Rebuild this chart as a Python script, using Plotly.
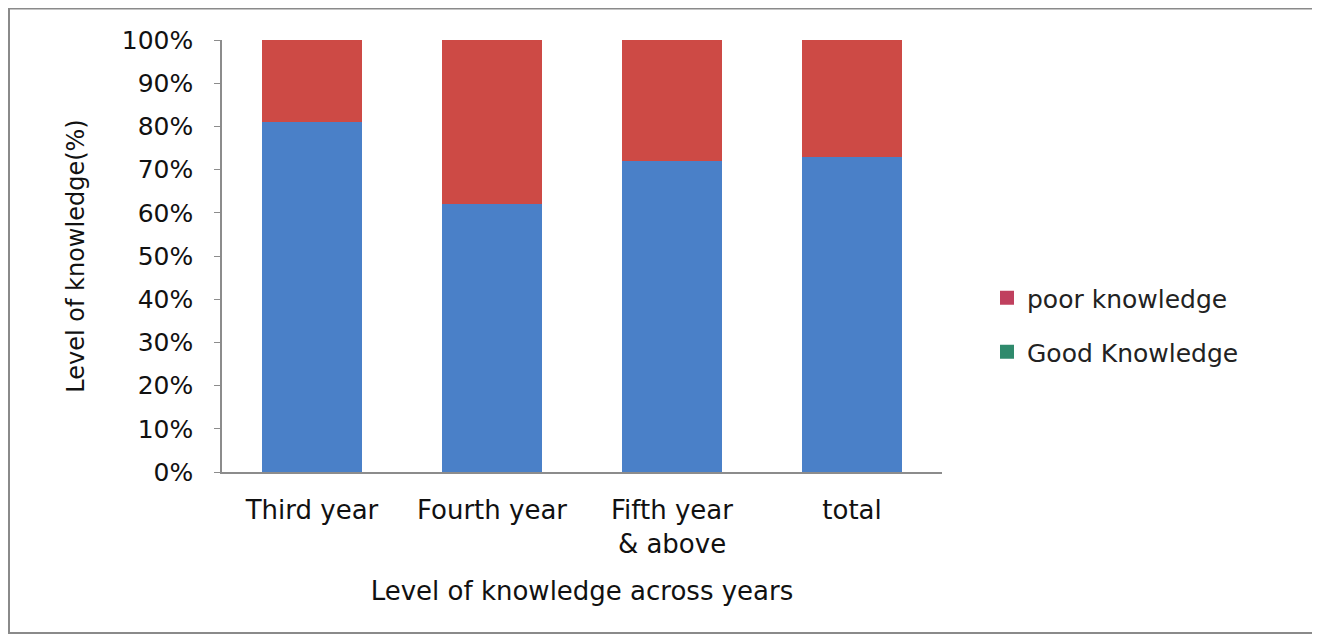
import plotly.graph_objects as go

categories = ["Third year", "Fourth year", "Fifth year<br>& above", "total"]
good_knowledge = [81, 62, 72, 73]
poor_knowledge = [19, 38, 28, 27]
y_ticks = [0, 10, 20, 30, 40, 50, 60, 70, 80, 90, 100]
y_ticklabels = [f"{v}%" for v in y_ticks]

BLUE = "#4a80c8"
RED = "#cd4a45"

# plot area in figure pixels (page has 8px body margin)
L, R, T, B = 214, 934, 32, 464
PW, PH = R - L, B - T

fig = go.Figure()
fig.add_trace(go.Bar(x=categories, y=good_knowledge, marker=dict(color=BLUE, line=dict(width=0)),
                     name="Good Knowledge", showlegend=False))
fig.add_trace(go.Bar(x=categories, y=poor_knowledge, marker=dict(color=RED, line=dict(width=0)),
                     name="poor knowledge", showlegend=False))
# legend-only entries (legend swatch colours differ in the reference)
fig.add_trace(go.Scatter(x=[None], y=[None], mode="markers", name="poor knowledge",
                         marker=dict(symbol="square", size=14, color="#c0405e"),
                         legend="legend"))
fig.add_trace(go.Scatter(x=[None], y=[None], mode="markers", name="Good Knowledge",
                         marker=dict(symbol="square", size=14, color="#2f8a6c"),
                         legend="legend2"))

FONT = "DejaVu Sans, Verdana, sans-serif"
legend_font = dict(family=FONT, size=25, color="#222")
lx = (979 - L) / PW
fig.update_layout(
    width=1320, height=644,
    barmode="stack", bargap=0.44,
    paper_bgcolor="white", plot_bgcolor="white",
    margin=dict(l=L, r=1320 - R, t=T, b=644 - B),
    font=dict(family=FONT, size=25, color="#111"),
    legend=dict(x=lx, y=(B - 290) / PH, xanchor="left", yanchor="middle",
                font=legend_font, bgcolor="rgba(0,0,0,0)"),
    legend2=dict(x=lx, y=(B - 344) / PH, xanchor="left", yanchor="middle",
                 font=legend_font, bgcolor="rgba(0,0,0,0)"),
    xaxis=dict(showline=True, linecolor="#8c8c8c", linewidth=1.5, ticks="",
               showgrid=False, ticklabelstandoff=14, tickfont=dict(size=26),
               title=dict(text="Level of knowledge across years", standoff=24,
                          font=dict(size=26))),
    yaxis=dict(range=[0, 100], tickvals=y_ticks, ticktext=y_ticklabels,
               showline=True, linecolor="#8c8c8c", linewidth=1.5,
               ticks="outside", ticklen=6, tickcolor="#8c8c8c", showgrid=False,
               zeroline=False, ticklabelstandoff=16, tickfont=dict(size=25),
               title=dict(text="Level of knowledge(%)", standoff=30, font=dict(size=24))),
    shapes=[dict(type="rect", xref="paper", yref="paper",
                 x0=(1 - L) / PW, x1=(1305 - L) / PW,
                 y0=(B - 625) / PH, y1=(B - 0.5) / PH,
                 line=dict(color="#8a8a8a", width=2), fillcolor="rgba(0,0,0,0)", layer="below")],
)

fig.write_html("out.html")
